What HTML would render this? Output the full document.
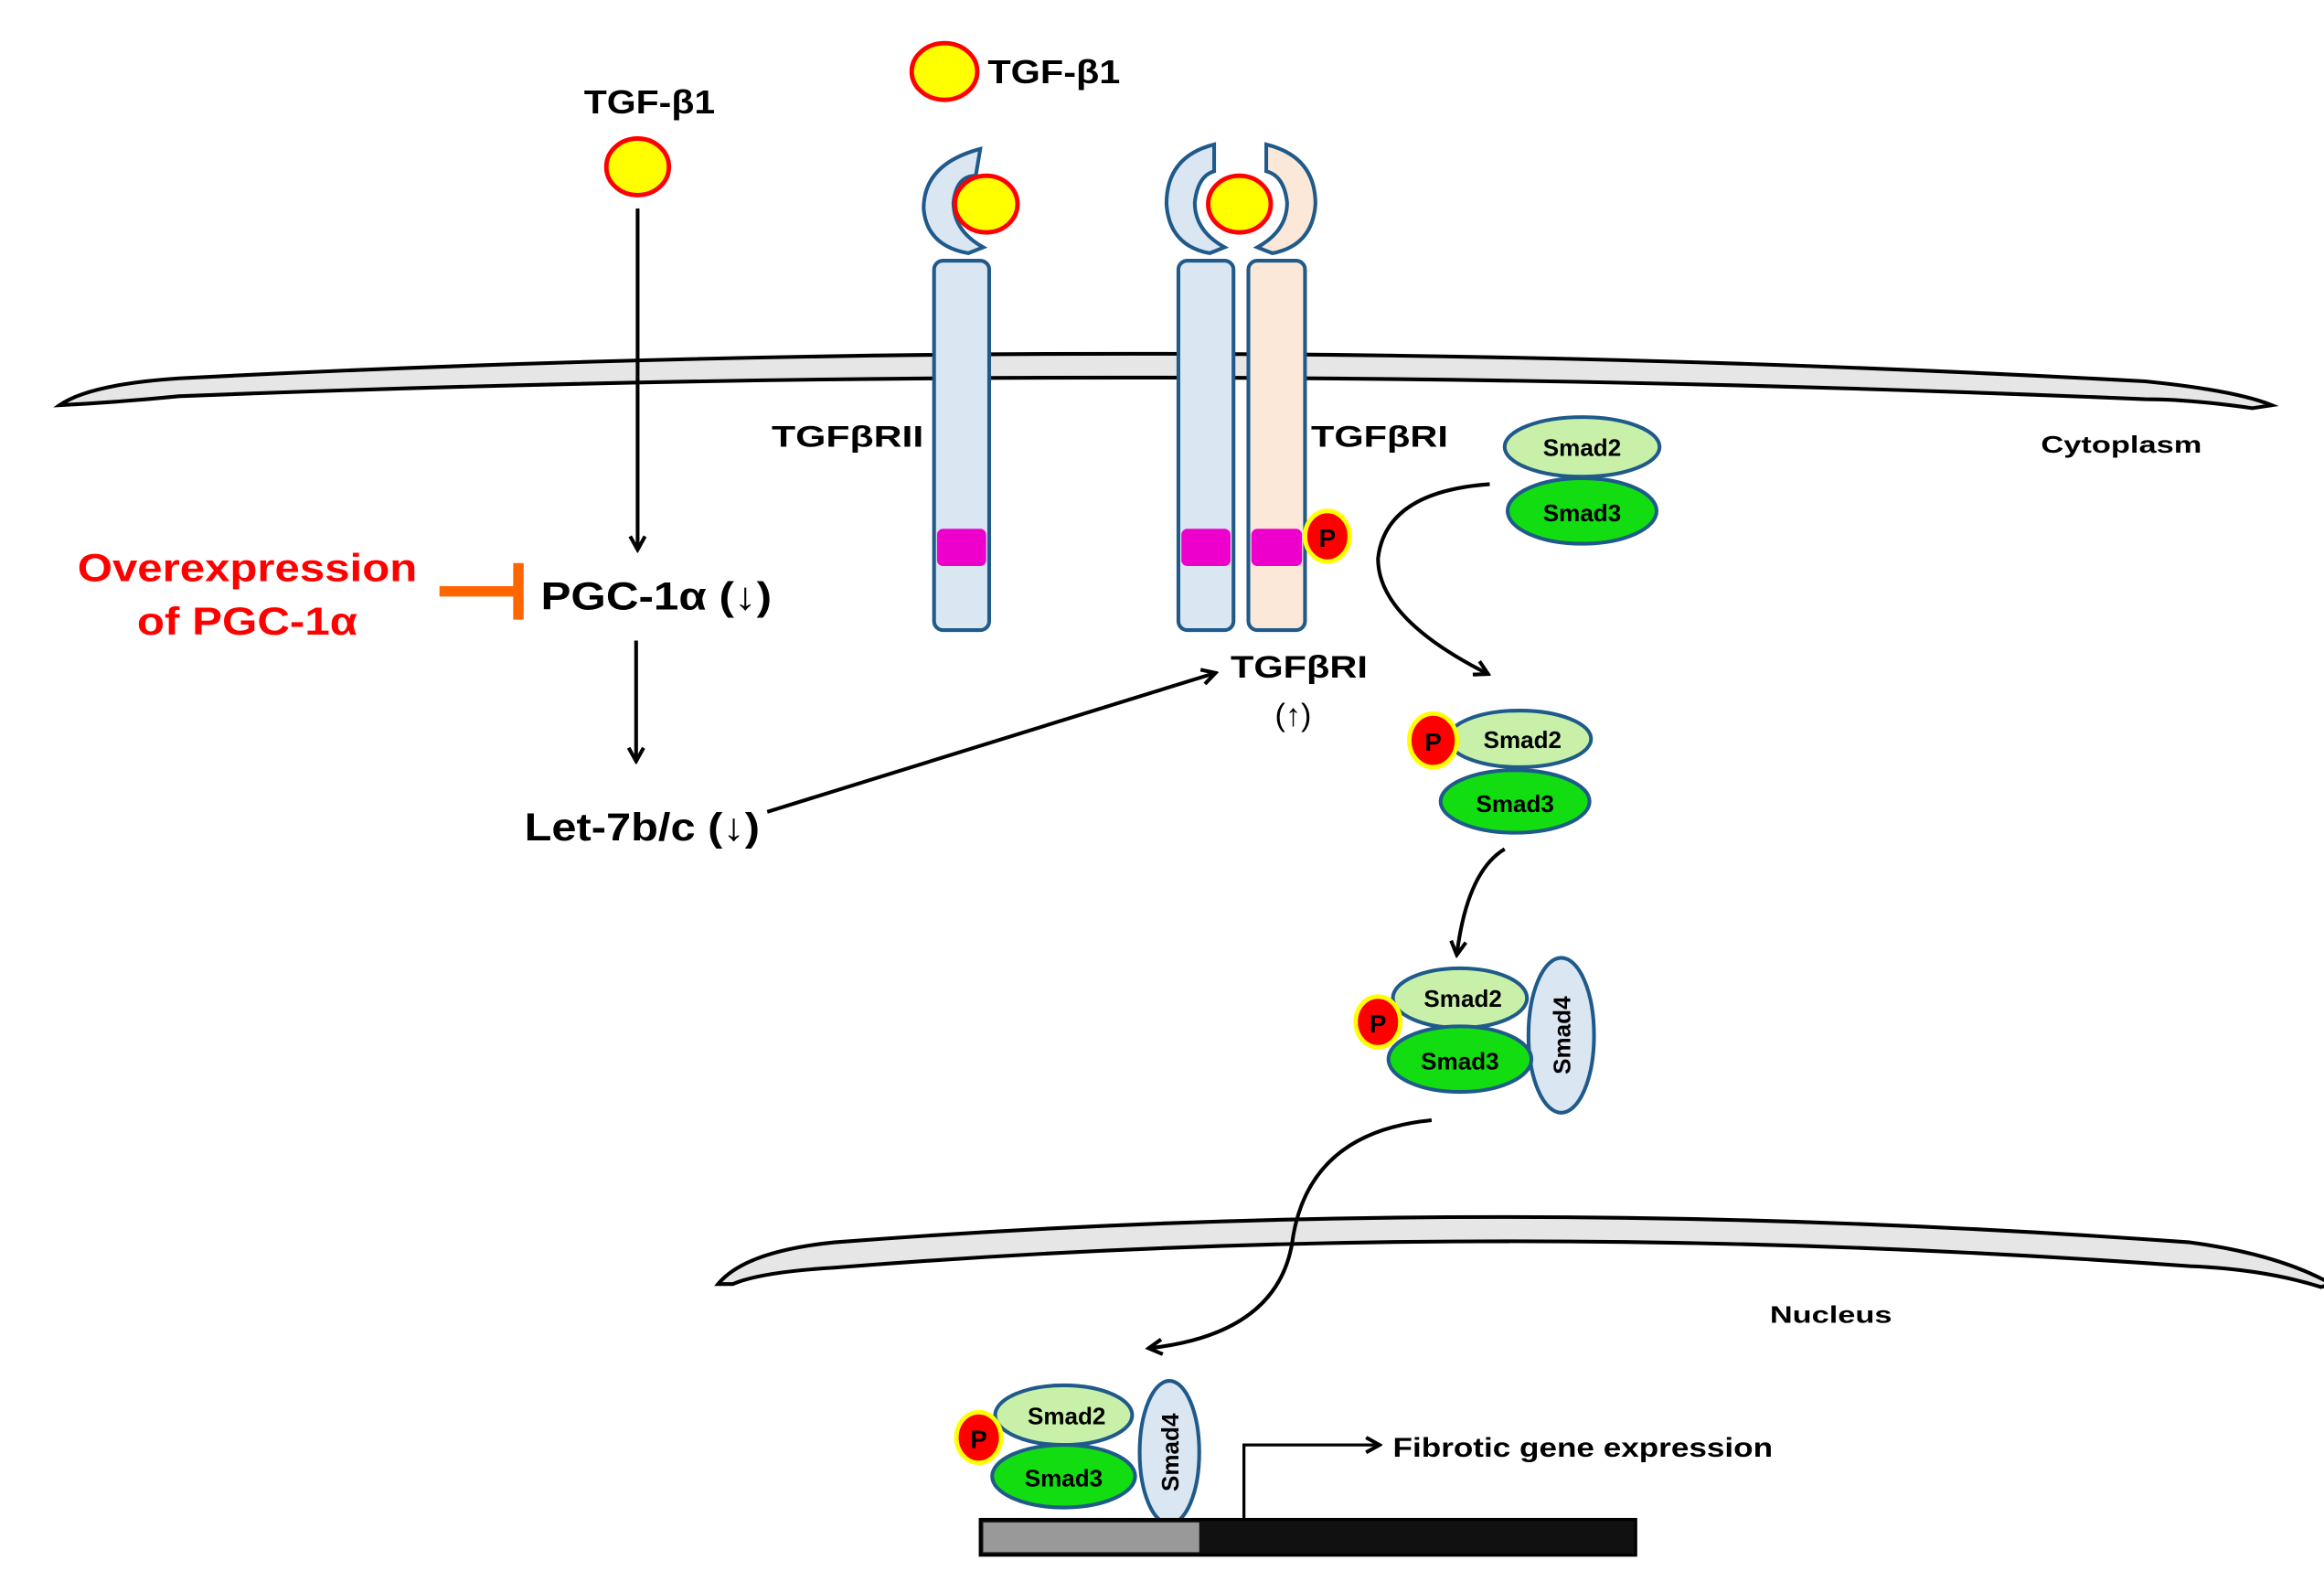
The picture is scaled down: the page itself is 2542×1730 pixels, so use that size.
<!DOCTYPE html>
<html><head><style>html,body{margin:0;padding:0;background:#fff}svg{display:block}text{font-family:"Liberation Sans",Arial,sans-serif;font-weight:bold}</style></head>
<body>
<svg width="2542" height="1730" viewBox="0 0 1560 1062" preserveAspectRatio="none" xmlns="http://www.w3.org/2000/svg">
<defs>
<marker id="ah" markerWidth="12" markerHeight="12" refX="9" refY="6" orient="auto" markerUnits="userSpaceOnUse"><path d="M1,1 L10,6 L1,11" fill="none" stroke="#000" stroke-width="2.5"/></marker>
</defs>
<!-- cell membrane -->
<path d="M40,272 Q60,258 120,254 Q780,220 1440,256 Q1500,262 1525,272 L1512,274 Q1470,268 1440,268 Q780,240 120,266 Q80,270 40,272 Z" fill="#e6e6e6" stroke="#000" stroke-width="2.5"/>
<!-- nucleus membrane -->
<path d="M482,862 Q500,840 560,834 Q1000,800 1470,834 Q1530,842 1565,862 L1558,864 Q1520,852 1470,850 Q1000,816 560,851 Q510,854 492,862 Z" fill="#e6e6e6" stroke="#000" stroke-width="2.5"/>

<!-- left pathway -->
<text x="392" y="76" font-size="22" textLength="88" lengthAdjust="spacingAndGlyphs">TGF-β1</text>
<ellipse cx="428" cy="112" rx="21" ry="19" fill="#ff0" stroke="#f00" stroke-width="3"/>
<line x1="428" y1="140" x2="428" y2="368" stroke="#000" stroke-width="2.5" marker-end="url(#ah)"/>
<text x="363" y="409" font-size="26" textLength="155" lengthAdjust="spacingAndGlyphs">PGC-1α (↓)</text>
<text x="52" y="390" font-size="26" fill="#f00" textLength="228" lengthAdjust="spacingAndGlyphs">Overexpression</text>
<text x="92" y="426" font-size="26" fill="#f00" textLength="148" lengthAdjust="spacingAndGlyphs">of PGC-1α</text>
<line x1="295" y1="397" x2="347" y2="397" stroke="#f60" stroke-width="7"/>
<line x1="348" y1="378" x2="348" y2="416" stroke="#f60" stroke-width="7"/>
<line x1="427" y1="430" x2="427" y2="510" stroke="#000" stroke-width="2.5" marker-end="url(#ah)"/>
<text x="352" y="564" font-size="26" textLength="158" lengthAdjust="spacingAndGlyphs">Let-7b/c (↓)</text>
<line x1="515" y1="545" x2="815" y2="452" stroke="#000" stroke-width="2.5" marker-end="url(#ah)"/>

<!-- top ligand -->
<ellipse cx="634" cy="48" rx="22" ry="19" fill="#ff0" stroke="#f00" stroke-width="3"/>
<text x="663" y="56" font-size="22" textLength="89" lengthAdjust="spacingAndGlyphs">TGF-β1</text>

<!-- receptor II alone -->
<path d="M658,100 Q620,110 620,140 Q622,165 650,170 L660,166 Q640,155 640,136 Q642,118 655,118 Z" fill="#dae6f2" stroke="#1f5a8a" stroke-width="2.5"/>
<rect x="627" y="175" width="37" height="248" rx="6" fill="#dae6f2" stroke="#1f5a8a" stroke-width="2.5"/>
<rect x="629" y="355" width="33" height="25" rx="4" fill="#e0c"/>
<ellipse cx="662" cy="137" rx="21" ry="19" fill="#ff0" stroke="#f00" stroke-width="3"/>
<text x="518" y="300" font-size="20" textLength="102" lengthAdjust="spacingAndGlyphs">TGFβRII</text>

<!-- receptor pair -->
<path d="M815,97 Q783,105 783,137 Q785,165 812,170 L822,166 Q802,155 802,136 Q804,118 815,115 Z" fill="#dae6f2" stroke="#1f5a8a" stroke-width="2.5"/>
<path d="M850,97 Q883,105 883,137 Q881,165 854,170 L844,166 Q864,155 864,136 Q862,118 850,115 Z" fill="#fce8d8" stroke="#1f5a8a" stroke-width="2.5"/>
<rect x="791" y="175" width="37" height="248" rx="6" fill="#dae6f2" stroke="#1f5a8a" stroke-width="2.5"/>
<rect x="838" y="175" width="38" height="248" rx="6" fill="#fce8d8" stroke="#1f5a8a" stroke-width="2.5"/>
<rect x="793" y="355" width="33" height="25" rx="4" fill="#e0c"/>
<rect x="840" y="355" width="34" height="25" rx="4" fill="#e0c"/>
<ellipse cx="832" cy="137" rx="21" ry="19" fill="#ff0" stroke="#f00" stroke-width="3"/>
<ellipse cx="891" cy="360" rx="15" ry="17" fill="#f00" stroke="#ff0" stroke-width="3"/>
<text x="891" y="367" font-size="17" text-anchor="middle">P</text>
<text x="880" y="300" font-size="20" textLength="92" lengthAdjust="spacingAndGlyphs">TGFβRI</text>
<text x="826" y="455" font-size="21" textLength="92" lengthAdjust="spacingAndGlyphs">TGFβRI</text>
<text x="868" y="487" font-size="21" text-anchor="middle" style="font-weight:normal">(↑)</text>
<text x="1370" y="304" font-size="16" textLength="108" lengthAdjust="spacingAndGlyphs">Cytoplasm</text>

<!-- smad free -->
<ellipse cx="1062" cy="300" rx="52" ry="20" fill="#c8f0a8" stroke="#1f5a8a" stroke-width="2.5"/>
<ellipse cx="1062" cy="343" rx="50" ry="22" fill="#1d1" stroke="#1f5a8a" stroke-width="2.5"/>
<text x="1062" y="306" font-size="16" text-anchor="middle">Smad2</text>
<text x="1062" y="350" font-size="16" text-anchor="middle">Smad3</text>
<path d="M1000,325 Q930,330 925,375 Q925,415 998,452" fill="none" stroke="#000" stroke-width="2.5" marker-end="url(#ah)"/>

<!-- smad phosphorylated -->
<ellipse cx="1020" cy="496" rx="48" ry="19" fill="#c8f0a8" stroke="#1f5a8a" stroke-width="2.5"/>
<ellipse cx="1017" cy="538" rx="50" ry="21" fill="#1d1" stroke="#1f5a8a" stroke-width="2.5"/>
<ellipse cx="962" cy="497" rx="16" ry="18" fill="#f00" stroke="#ff0" stroke-width="3"/>
<text x="962" y="504" font-size="17" text-anchor="middle">P</text>
<text x="1022" y="502" font-size="16" text-anchor="middle">Smad2</text>
<text x="1017" y="545" font-size="16" text-anchor="middle">Smad3</text>
<path d="M1010,570 Q985,585 978,640" fill="none" stroke="#000" stroke-width="2.5" marker-end="url(#ah)"/>

<!-- complex -->
<ellipse cx="1048" cy="695" rx="22" ry="52" fill="#dae6f2" stroke="#1f5a8a" stroke-width="2.5"/>
<text transform="translate(1054,695) rotate(-90)" font-size="16" text-anchor="middle">Smad4</text>
<ellipse cx="980" cy="670" rx="45" ry="20" fill="#c8f0a8" stroke="#1f5a8a" stroke-width="2.5"/>
<ellipse cx="980" cy="711" rx="48" ry="22" fill="#1d1" stroke="#1f5a8a" stroke-width="2.5"/>
<ellipse cx="925" cy="686" rx="15" ry="17" fill="#f00" stroke="#ff0" stroke-width="3"/>
<text x="925" y="693" font-size="17" text-anchor="middle">P</text>
<text x="982" y="676" font-size="16" text-anchor="middle">Smad2</text>
<text x="980" y="718" font-size="16" text-anchor="middle">Smad3</text>
<path d="M961,752 Q880,760 868,830 Q860,895 772,905" fill="none" stroke="#000" stroke-width="2.5" marker-end="url(#ah)"/>
<text x="1188" y="888" font-size="16" textLength="82" lengthAdjust="spacingAndGlyphs">Nucleus</text>

<!-- nuclear complex -->
<ellipse cx="785" cy="975" rx="20" ry="48" fill="#dae6f2" stroke="#1f5a8a" stroke-width="2.5"/>
<text transform="translate(791,975) rotate(-90)" font-size="16" text-anchor="middle">Smad4</text>
<ellipse cx="714" cy="950" rx="46" ry="20" fill="#c8f0a8" stroke="#1f5a8a" stroke-width="2.5"/>
<ellipse cx="714" cy="991" rx="48" ry="21" fill="#1d1" stroke="#1f5a8a" stroke-width="2.5"/>
<ellipse cx="657" cy="965" rx="15" ry="17" fill="#f00" stroke="#ff0" stroke-width="3"/>
<text x="657" y="972" font-size="17" text-anchor="middle">P</text>
<text x="716" y="956" font-size="16" text-anchor="middle">Smad2</text>
<text x="714" y="998" font-size="16" text-anchor="middle">Smad3</text>
<rect x="658" y="1020" width="440" height="24" fill="#111" stroke="#000" stroke-width="2"/>
<rect x="660" y="1022" width="145" height="20" fill="#999"/>
<path d="M835,1020 L835,970 L925,970" fill="none" stroke="#000" stroke-width="2" marker-end="url(#ah)"/>
<text x="935" y="978" font-size="18" textLength="255" lengthAdjust="spacingAndGlyphs">Fibrotic gene expression</text>
</svg>
</body></html>
